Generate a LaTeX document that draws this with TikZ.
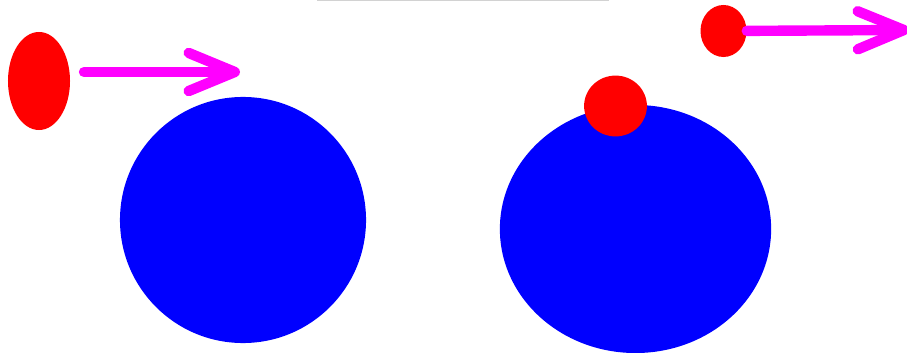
\documentclass[tikz,border=0pt]{standalone}
\usetikzlibrary{shapes.geometric, arrows.meta}
\definecolor{pushpink}{RGB}{255,0,255}

\begin{document}
\begin{tikzpicture}[
  x=0.025cm, y=-0.025cm,
  ball/.style={ellipse, fill=red, inner sep=0pt},
  planet/.style={ellipse, fill=blue, inner sep=0pt},
  push/.style={draw=pushpink, line width=0.26cm, line cap=round,
    -{Straight Barb[length=1.15cm, width=0.95cm, round]}}
]
  \useasboundingbox (0,0) rectangle (907,353);
  \draw[gray!35, line width=0.05cm] (317,0) -- (609,0);

  \node[planet, minimum width=6.15cm, minimum height=6.15cm] (lplanet) at (243, 220) {};
  \node[planet, minimum width=6.78cm, minimum height=6.2cm] (rplanet) at (635.5, 229) {};

  \node[ball, minimum width=1.55cm, minimum height=2.45cm] (lball) at (39, 81) {};
  \node[ball, minimum width=1.57cm, minimum height=1.52cm] (sball) at (615.5, 106) {};
  \node[ball, minimum width=1.15cm, minimum height=1.3cm] (rball) at (723.5, 31) {};

  \coordinate (lstart) at (84, 72);
  \coordinate (ltip) at (240, 72);
  \coordinate (rtip) at (909, 30);

  \draw[push] (lstart) -- (ltip);
  \draw[push] (rball) -- (rtip);
\end{tikzpicture}
\end{document}
